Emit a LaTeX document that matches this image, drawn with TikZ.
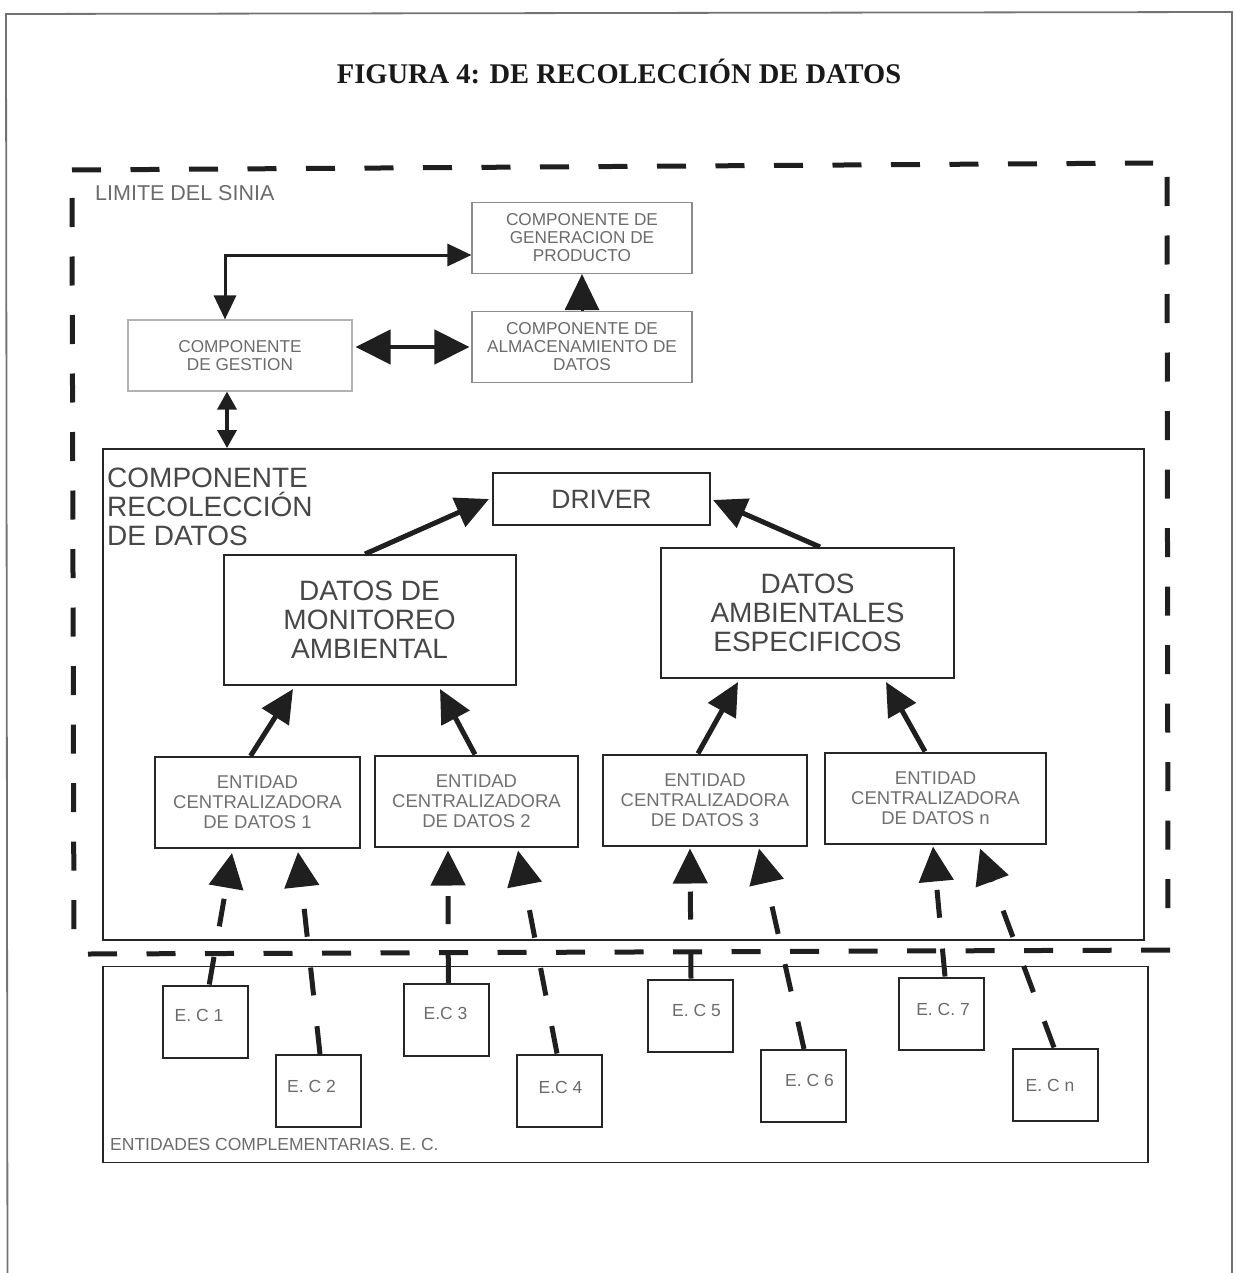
\documentclass[tikz,border=0pt]{standalone}
\usepackage{fontspec}
\setmainfont{Liberation Serif}
\setsansfont{Liberation Sans}
\usetikzlibrary{arrows.meta,calc}
\begin{document}
\begin{tikzpicture}[x=1pt,y=-1pt,
  frameln/.style={draw=black!55,line width=1.8pt},
  bnd/.style={draw=black!88,line width=5pt,dash pattern=on 29pt off 29.5pt},
  lbl/.style={inner sep=0pt,text=black!58,font=\sffamily\fontsize{17.5}{19}\selectfont},
  topbox/.style={draw=black!45,line width=1.1pt,minimum width=220pt,minimum height=71pt,inner sep=0pt,align=center,text=black!58,font=\sffamily\fontsize{17.2}{18}\selectfont},
  gestbox/.style={topbox,draw=black!30,minimum width=224pt},
  bigbox/.style={draw=black!85,line width=2pt,minimum width=292pt,minimum height=130pt,inner sep=0pt,align=center,text=black!72,font=\sffamily\fontsize{28}{29}\selectfont},
  drvbox/.style={draw=black!85,line width=2pt,minimum width=217pt,minimum height=52pt,inner sep=0pt,text=black!72,font=\sffamily\fontsize{26.5}{28}\selectfont},
  entbox/.style={draw=black!85,line width=2pt,minimum width=204pt,minimum height=91pt,inner sep=0pt,align=center,text=black!56,font=\sffamily\fontsize{18.5}{20}\selectfont},
  ecbox/.style={draw=black!85,line width=2pt,minimum width=85pt,minimum height=72pt,inner sep=0pt},
  areabox/.style={draw=black!85,line width=1.8pt,inner sep=0pt},
  conL/.style={draw=black!88,line width=3pt,arrows={Triangle[length=24pt,width=22pt]-Triangle[length=24pt,width=22pt]}},
  conD/.style={draw=black!88,line width=4.5pt,arrows={Triangle[length=35pt,width=34pt]-Triangle[length=35pt,width=34pt]}},
  conU/.style={draw=black!88,line width=3pt,arrows={-Triangle[length=36pt,width=34pt]}},
  conT/.style={draw=black!88,line width=3.5pt,arrows={Triangle[length=18pt,width=19pt]-Triangle[length=18pt,width=19pt]}},
  conM/.style={draw=black!88,line width=5pt,arrows={-Triangle[length=33pt,width=31pt]}},
  conE/.style={draw=black!88,line width=5pt,dash pattern=on 28pt off 31pt,arrows={-Triangle[length=35pt,width=34pt]}},
]
\useasboundingbox (0,0) rectangle (1235,1273);
% page frame
\draw[frameln] (7.5,1290) -- (6,14) -- (1232,12) -- (1232,1290);
% title
\node[font=\bfseries\fontsize{28.5}{30}\selectfont,anchor=base,inner sep=0pt,text=black!90] (title) at (619,84) {FIGURA 4: DE RECOLECCIÓN DE DATOS};
% system boundary
\draw[bnd] (72,170) -- (1153,163);
\draw[bnd] (1167,177) -- (1168,935);
\draw[bnd] (88,954) -- (1175,950);
\draw[bnd] (72,198) -- (74,948);
\node[lbl,anchor=north west,font=\sffamily\fontsize{21.5}{22}\selectfont] (limite) at (95,185) {LIMITE DEL SINIA};
% top components
\node[topbox] (gen) at (582,238) {COMPONENTE DE\\GENERACION DE\\PRODUCTO};
\node[topbox] (alm) at (582,347) {COMPONENTE DE\\ALMACENAMIENTO DE\\DATOS};
\node[gestbox] (gest) at (240,355.5) {COMPONENTE\\DE GESTION\hspace*{0pt}};
% recoleccion area
\node[areabox,minimum width=1041pt,minimum height=491pt] (rec) at (623.5,694.5) {};
\node[anchor=north west,inner sep=0pt,align=left,text=black!72,font=\sffamily\fontsize{28}{29}\selectfont] (recl) at (107,468) {COMPONENTE\\RECOLECCIÓN\\DE DATOS};
\node[drvbox] (drv) at (601.5,499) {DRIVER};
\node[bigbox] (mon) at (369.5,620) {DATOS DE\\MONITOREO\\AMBIENTAL};
\node[bigbox,minimum width=293pt] (esp) at (807.5,613) {DATOS\\AMBIENTALES\\ESPECIFICOS};
\node[entbox,minimum width=205pt] (ent1) at (257.5,802.5) {ENTIDAD\\CENTRALIZADORA\\DE DATOS 1};
\node[entbox,minimum width=203pt] (ent2) at (476.5,801) {ENTIDAD\\CENTRALIZADORA\\DE DATOS 2};
\node[entbox] (ent3) at (705,800) {ENTIDAD\\CENTRALIZADORA\\DE DATOS 3};
\node[entbox,minimum width=221pt] (entn) at (935.5,798) {ENTIDAD\\CENTRALIZADORA\\DE DATOS n};
% complementary entities area
\node[areabox,minimum width=1045pt,minimum height=196pt] (ecarea) at (625.5,1064.5) {};
\node[lbl,anchor=north west] (ecal) at (110,1138) {ENTIDADES COMPLEMENTARIAS. E. C.};
\node[ecbox] (ec1) at (205.25,1021.5) {};
\node[ecbox] (ec2) at (318,1091) {};
\node[ecbox] (ec3) at (446.3,1020) {};
\node[ecbox] (ec4) at (559.5,1090.5) {};
\node[ecbox] (ec5) at (690.25,1015.5) {};
\node[ecbox] (ec6) at (803.5,1086) {};
\node[ecbox] (ec7) at (941.5,1013.5) {};
\node[ecbox] (ecn) at (1055,1084.5) {};
\node[lbl] (ec1t) at (199,1015) {E. C 1};
\node[lbl] (ec2t) at (311.5,1086.5) {E. C 2};
\node[lbl] (ec3t) at (445.5,1013.5) {E.C 3};
\node[lbl] (ec4t) at (560.5,1087) {E.C 4};
\node[lbl] (ec5t) at (696.5,1010) {E. C 5};
\node[lbl] (ec6t) at (809.5,1080.5) {E. C 6};
\node[lbl] (ec7t) at (943,1009) {E. C. 7};
\node[lbl] (ecnt) at (1050,1085.5) {E. C n};
% connectors, top part
\coordinate (g1) at ($(gest.north)+(-15,0)$);
\draw[conL] (g1) |- ($(gen.west)+(0,17)$);
\draw[conD,shorten <=3pt,shorten >=2pt] (gest.east |- alm.west) -- (alm.west);
\draw[conU] (alm.north) -- (gen.south);
\coordinate (g2) at ($(gest.south)+(-13,0)$);
\draw[conT] (g2) -- (g2 |- rec.north);
% connectors inside recoleccion
\draw[conM] ($(mon.north)+(-4.5,0)$) -- ($(drv.west)+(-3,0)$);
\draw[conM] ($(esp.north)+(12.5,0)$) -- ($(drv.east)+(2,1)$);
\draw[conM] ($(ent1.north)+(-7,0)$) -- ($(mon.south)+(-76.5,3)$);
\draw[conM] ($(ent2.north)+(-1.5,0)$) -- ($(mon.south)+(70.5,3)$);
\draw[conM] ($(ent3.north)+(-7,0)$) -- ($(esp.south)+(-69.5,3)$);
\draw[conM] ($(entn.north)+(-10.5,0)$) -- ($(esp.south)+(78.5,3)$);
% dashed connectors from complementary entities
\draw[conE] ($(ec1.north)+(4,0)$) -- ($(ent1.south)+(-25.5,4)$);
\draw[conE] ($(ec2.north)+(2,0)$) -- ($(ent1.south)+(40.5,3)$);
\draw[conE] ($(ec3.north)+(2,0)$) -- ($(ent2.south)+(-28.5,3)$);
\draw[conE] ($(ec4.north)+(-2.5,0)$) -- ($(ent2.south)+(41.5,3)$);
\draw[conE] ($(ec5.north)+(0.75,0)$) -- ($(ent3.south)+(-15,2)$);
\draw[conE] ($(ec6.north)+(0.5,0)$) -- ($(ent3.south)+(54,2)$);
\draw[conE] ($(ec7.north)+(3.5,0)$) -- ($(entn.south)+(-2.5,2)$);
\draw[conE] ($(ecn.north)+(-1,0)$) -- ($(entn.south)+(44.5,4)$);
\end{tikzpicture}
\end{document}
